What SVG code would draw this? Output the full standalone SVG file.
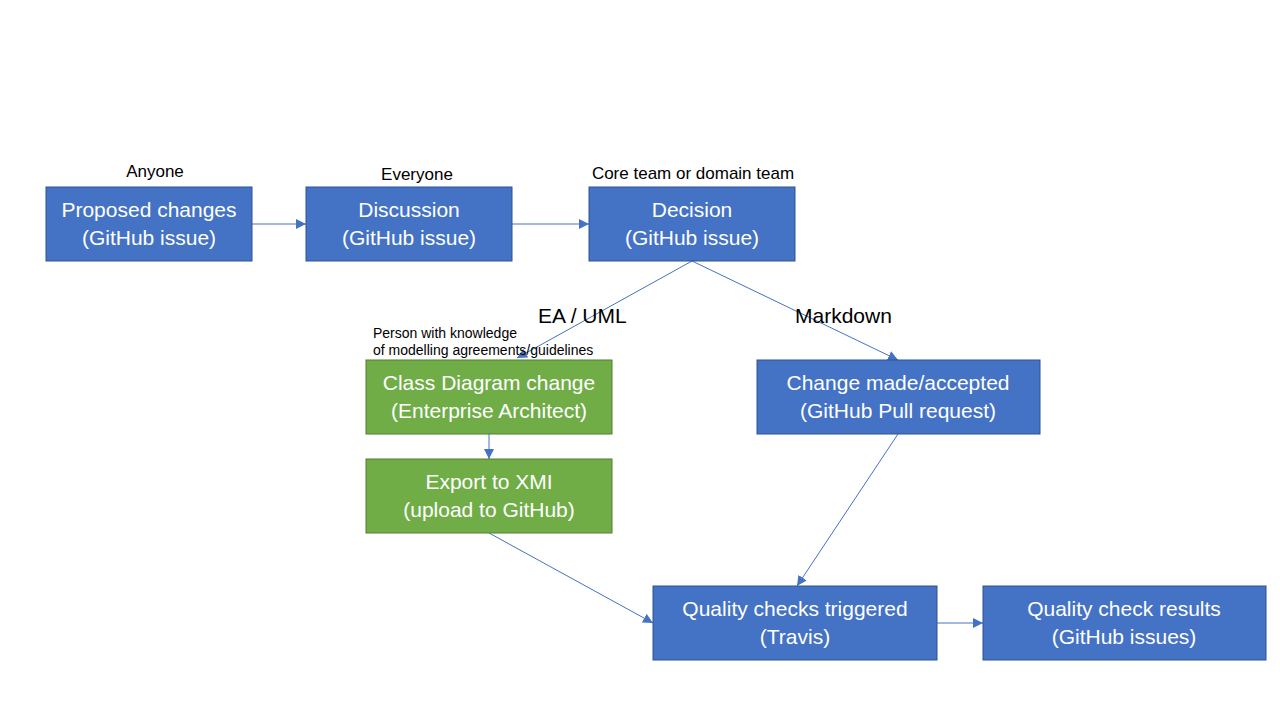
<svg xmlns="http://www.w3.org/2000/svg" width="1280" height="720" viewBox="0 0 1280 720">
<style>
.blue{fill:#4472C4;stroke:#2F528F;stroke-width:1}
.green{fill:#70AD47;stroke:#507E32;stroke-width:1}
.t{font-family:"Liberation Sans",Arial,sans-serif;font-size:21px;fill:#FFFFFF;text-anchor:middle}
.lbl{font-family:"Liberation Sans",Arial,sans-serif;font-size:17px;fill:#000000;text-anchor:middle}
.big{font-family:"Liberation Sans",Arial,sans-serif;font-size:21px;fill:#000000}
.small{font-family:"Liberation Sans",Arial,sans-serif;font-size:14px;fill:#000000}
.c{stroke:#4472C4;stroke-width:1;fill:none;marker-end:url(#ah)}
</style>
<defs>
<marker id="ah" viewBox="0 0 10 10" refX="10" refY="5" markerWidth="10" markerHeight="10" markerUnits="userSpaceOnUse" orient="auto">
<path d="M0,0 L10,5 L0,10 z" fill="#4472C4"/>
</marker>
</defs>
<rect width="1280" height="720" fill="#FFFFFF"/>
<g id="connectors">
<line class="c" x1="252" y1="224" x2="306" y2="224"/>
<line class="c" x1="512" y1="224" x2="589" y2="224"/>
<line class="c" x1="692" y1="261" x2="517" y2="358"/>
<line class="c" x1="692" y1="261" x2="898" y2="360"/>
<line class="c" x1="489" y1="434" x2="489" y2="459"/>
<line class="c" x1="489" y1="533" x2="653" y2="623"/>
<line class="c" x1="898" y1="434" x2="797" y2="586"/>
<line class="c" x1="937" y1="623" x2="983" y2="623"/>
</g>
<g id="proposed">
<text class="lbl" x="155" y="177">Anyone</text>
<rect class="blue" x="46" y="187" width="206" height="74"/>
<text class="t" x="149" y="217">Proposed changes</text>
<text class="t" x="149" y="245">(GitHub issue)</text>
</g>
<g id="discussion">
<text class="lbl" x="417" y="180">Everyone</text>
<rect class="blue" x="306" y="187" width="206" height="74"/>
<text class="t" x="409" y="217">Discussion</text>
<text class="t" x="409" y="245">(GitHub issue)</text>
</g>
<g id="decision">
<text class="lbl" x="693" y="179">Core team or domain team</text>
<rect class="blue" x="589" y="187" width="206" height="74"/>
<text class="t" x="692" y="217">Decision</text>
<text class="t" x="692" y="245">(GitHub issue)</text>
</g>
<g id="label-ea">
<text class="big" x="538" y="323">EA / UML</text>
</g>
<g id="label-md">
<text class="big" x="795" y="323">Markdown</text>
</g>
<g id="classdiagram">
<text class="small" x="373" y="338">Person with knowledge</text>
<text class="small" x="373" y="355">of modelling agreements/guidelines</text>
<rect class="green" x="366" y="360" width="246" height="74"/>
<text class="t" x="489" y="390">Class Diagram change</text>
<text class="t" x="489" y="418">(Enterprise Architect)</text>
</g>
<g id="export">
<rect class="green" x="366" y="459" width="246" height="74"/>
<text class="t" x="489" y="489">Export to XMI</text>
<text class="t" x="489" y="517">(upload to GitHub)</text>
</g>
<g id="change">
<rect class="blue" x="757" y="360" width="283" height="74"/>
<text class="t" x="898" y="390">Change made/accepted</text>
<text class="t" x="898" y="418">(GitHub Pull request)</text>
</g>
<g id="quality">
<rect class="blue" x="653" y="586" width="284" height="74"/>
<text class="t" x="795" y="616">Quality checks triggered</text>
<text class="t" x="795" y="644">(Travis)</text>
</g>
<g id="results">
<rect class="blue" x="983" y="586" width="283" height="74"/>
<text class="t" x="1124" y="616">Quality check results</text>
<text class="t" x="1124" y="644">(GitHub issues)</text>
</g>
</svg>
